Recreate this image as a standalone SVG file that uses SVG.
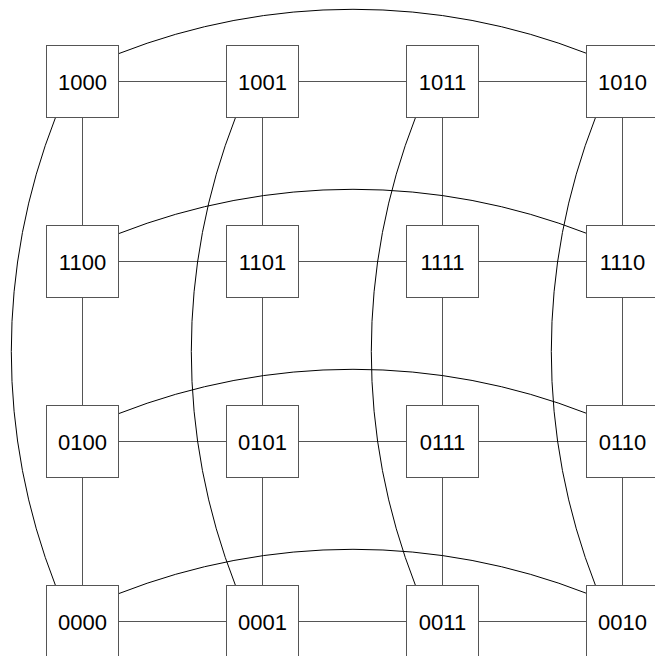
<svg xmlns="http://www.w3.org/2000/svg" width="655" height="656" viewBox="0 0 655 656">
<style>
.box{fill:#fff;stroke:#555;stroke-width:1}
.ln{stroke:#555;stroke-width:1;fill:none}
.arc{stroke:#000;stroke-width:1;fill:none}
.lbl{font-family:"Liberation Sans",Arial,sans-serif;font-size:22px;text-anchor:middle;fill:#000}
</style>
<rect width="655" height="656" fill="#fff"/>
<g id="connectors">
<path class="ln" d="M118.5,81.5H226.5M298.5,81.5H406.5M478.5,81.5H586.5"/>
<path class="ln" d="M118.5,261.5H226.5M298.5,261.5H406.5M478.5,261.5H586.5"/>
<path class="ln" d="M118.5,441.5H226.5M298.5,441.5H406.5M478.5,441.5H586.5"/>
<path class="ln" d="M118.5,621.5H226.5M298.5,621.5H406.5M478.5,621.5H586.5"/>
<path class="ln" d="M82.5,117.5V225.5M82.5,297.5V405.5M82.5,477.5V585.5"/>
<path class="ln" d="M262.5,117.5V225.5M262.5,297.5V405.5M262.5,477.5V585.5"/>
<path class="ln" d="M442.5,117.5V225.5M442.5,297.5V405.5M442.5,477.5V585.5"/>
<path class="ln" d="M622.5,117.5V225.5M622.5,297.5V405.5M622.5,477.5V585.5"/>
<path class="arc" d="M119,53.5A641.5,641.5 0 0 1 587,53.5"/>
<path class="arc" d="M119,233.5A641.5,641.5 0 0 1 587,233.5"/>
<path class="arc" d="M119,413.5A641.5,641.5 0 0 1 587,413.5"/>
<path class="arc" d="M119,593.5A641.5,641.5 0 0 1 587,593.5"/>
<path class="arc" d="M55.5,117.5A641.5,641.5 0 0 0 55.5,585.5"/>
<path class="arc" d="M235.5,117.5A641.5,641.5 0 0 0 235.5,585.5"/>
<path class="arc" d="M415.5,117.5A641.5,641.5 0 0 0 415.5,585.5"/>
<path class="arc" d="M595.5,117.5A641.5,641.5 0 0 0 595.5,585.5"/>
</g>
<g id="n1000"><rect class="box" x="46.5" y="45.5" width="72" height="72"/><text class="lbl" x="82.5" y="89.5">1000</text></g>
<g id="n1001"><rect class="box" x="226.5" y="45.5" width="72" height="72"/><text class="lbl" x="262.5" y="89.5">1001</text></g>
<g id="n1011"><rect class="box" x="406.5" y="45.5" width="72" height="72"/><text class="lbl" x="442.5" y="89.5">1011</text></g>
<g id="n1010"><rect class="box" x="586.5" y="45.5" width="72" height="72"/><text class="lbl" x="622.5" y="89.5">1010</text></g>
<g id="n1100"><rect class="box" x="46.5" y="225.5" width="72" height="72"/><text class="lbl" x="82.5" y="269.5">1100</text></g>
<g id="n1101"><rect class="box" x="226.5" y="225.5" width="72" height="72"/><text class="lbl" x="262.5" y="269.5">1101</text></g>
<g id="n1111"><rect class="box" x="406.5" y="225.5" width="72" height="72"/><text class="lbl" x="442.5" y="269.5">1111</text></g>
<g id="n1110"><rect class="box" x="586.5" y="225.5" width="72" height="72"/><text class="lbl" x="622.5" y="269.5">1110</text></g>
<g id="n0100"><rect class="box" x="46.5" y="405.5" width="72" height="72"/><text class="lbl" x="82.5" y="449.5">0100</text></g>
<g id="n0101"><rect class="box" x="226.5" y="405.5" width="72" height="72"/><text class="lbl" x="262.5" y="449.5">0101</text></g>
<g id="n0111"><rect class="box" x="406.5" y="405.5" width="72" height="72"/><text class="lbl" x="442.5" y="449.5">0111</text></g>
<g id="n0110"><rect class="box" x="586.5" y="405.5" width="72" height="72"/><text class="lbl" x="622.5" y="449.5">0110</text></g>
<g id="n0000"><rect class="box" x="46.5" y="585.5" width="72" height="72"/><text class="lbl" x="82.5" y="629.5">0000</text></g>
<g id="n0001"><rect class="box" x="226.5" y="585.5" width="72" height="72"/><text class="lbl" x="262.5" y="629.5">0001</text></g>
<g id="n0011"><rect class="box" x="406.5" y="585.5" width="72" height="72"/><text class="lbl" x="442.5" y="629.5">0011</text></g>
<g id="n0010"><rect class="box" x="586.5" y="585.5" width="72" height="72"/><text class="lbl" x="622.5" y="629.5">0010</text></g>
</svg>
